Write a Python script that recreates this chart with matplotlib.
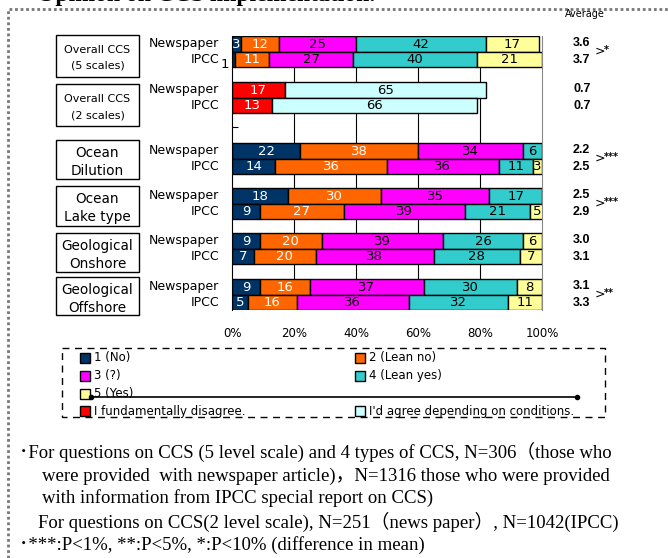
import matplotlib.pyplot as plt
from matplotlib.patches import Rectangle

# questions and the two respondent groups
topics = ["Overall CCS\n(5 scales)", "Overall CCS\n(2 scales)", "Ocean\nDilution",
          "Ocean\nLake type", "Geological\nOnshore", "Geological\nOffshore"]
groups = ["Newspaper", "IPCC"]

# percentages per answer, 5 level scale: 1 (No) ... 5 (Yes)
news_5 = [[3, 12, 25, 42, 17], None, [22, 38, 34, 6, 0],
          [18, 30, 35, 17, 0], [9, 20, 39, 26, 6], [9, 16, 37, 30, 8]]
ipcc_5 = [[1, 11, 27, 40, 21], None, [14, 36, 36, 11, 3],
          [9, 27, 39, 21, 5], [7, 20, 38, 28, 7], [5, 16, 36, 32, 11]]
# 2 level scale only for the second question
news_2 = [17, 65]
ipcc_2 = [13, 66]

avg_news = ["3.6", "0.7", "2.2", "2.5", "3.0", "3.1"]
avg_ipcc = ["3.7", "0.7", "2.5", "2.9", "3.1", "3.3"]
signif = ["*", "", "***", "***", "", "**"]

names_5 = ["1 (No)", "2 (Lean no)", "3 (?)", "4 (Lean yes)", "5 (Yes)"]
names_2 = ["I fundamentally disagree.", "I'd agree depending on conditions."]
colors_5 = ["#003366", "#FF6600", "#FF00FF", "#33CCCC", "#FFFF99"]
colors_2 = ["#FF0000", "#CCFFFF"]
text_5 = ["white", "white", "black", "black", "black"]
text_2 = ["white", "black"]

xticks = [0, 20, 40, 60, 80, 100]

notes = [
    (19, 452, "･For questions on CCS (5 level scale) and 4 types of CCS, N=306（those who"),
    (42, 476, "were provided  with newspaper article)，N=1316 those who were provided"),
    (42, 498, "with information from IPCC special report on CCS)"),
    (38, 522, "For questions on CCS(2 level scale), N=251（news paper）, N=1042(IPCC)"),
    (19, 545, "･***:P<1%, **:P<5%, *:P<10% (difference in mean)"),
]

# layout in figure pixels
W, H = 668, 558
group_top = [36, 82, 143, 188, 233, 279]
box_y = [(35, 77), (84, 126), (140, 179), (186, 226), (233, 272), (277, 315)]
bh = 15.5

fig = plt.figure(figsize=(W / 100, H / 100), dpi=100)

# overlay in pixel coordinates for boxes, legend and notes
bg = fig.add_axes([0, 0, 1, 1])
bg.set_xlim(0, W)
bg.set_ylim(H, 0)
bg.axis("off")

ax = fig.add_axes([232 / W, 1 - 310 / H, (542 - 232) / W, (310 - 36) / H])
ax.set_xlim(0, 100)
ax.set_ylim(310, 36)

for x in xticks[1:-1]:
    ax.axvline(x, color="black", lw=0.8, zorder=0)

for g in range(len(topics)):
    for k, name in enumerate(groups):
        yc = group_top[g] + bh * (k + 0.5)
        if news_5[g] is not None:
            vals = news_5[g] if k == 0 else ipcc_5[g]
            cols, tcols = colors_5, text_5
        else:
            vals = news_2 if k == 0 else ipcc_2
            cols, tcols = colors_2, text_2
        left = 0
        for v, c, tc in zip(vals, cols, tcols):
            if v > 0:
                ax.barh(yc, v, left=left, height=bh, color=c, edgecolor="black",
                        lw=1, zorder=2)
                if v >= 2:
                    ax.text(left + v / 2, yc + 0.5, str(v), ha="center", va="center",
                            color=tc, fontsize=9.5, zorder=3)
                else:
                    ax.text(-0.8, yc + 5, str(v), ha="right", va="center",
                            fontsize=9.5, clip_on=False)
            left += v
        bg.text(219, yc, name, ha="right", va="center", fontsize=9)

    # averages and significance
    bg.text(573, group_top[g] + bh * 0.5 - 1, avg_news[g], ha="left", va="center",
            fontsize=9, fontweight="bold", family="Liberation Sans")
    bg.text(573, group_top[g] + bh * 1.5 + 1, avg_ipcc[g], ha="left", va="center",
            fontsize=9, fontweight="bold", family="Liberation Sans")
    if signif[g]:
        bg.text(595, group_top[g] + bh, ">", ha="left", va="center", fontsize=9)
        bg.text(604, group_top[g] + bh - 1.5, signif[g], ha="left", va="center",
                fontsize=7, fontweight="bold")

    # category box on the left
    y0, y1 = box_y[g]
    rect = Rectangle((56, y0), 83, y1 - y0, facecolor="white", edgecolor="black", lw=1)
    bg.add_patch(rect)
    fs = 8 if g < 2 else 9.8
    l1, l2 = topics[g].split("\n")
    off1, off2 = (15, 31) if g < 2 else (13, 31)
    for off, line in ((off1, l1), (off2, l2)):
        t = bg.text(97.5, y0 + off, line, ha="center", va="center", fontsize=fs)
        t.set_clip_path(rect)

ax.set_xticks(xticks)
ax.set_xticklabels([f"{x}%" for x in xticks], fontsize=8.5)
ax.tick_params(axis="x", length=0, pad=12)
ax.set_yticks([127])
ax.tick_params(axis="y", direction="in", length=4, labelleft=False)
ax.spines["top"].set_visible(False)
ax.spines["bottom"].set_visible(False)
ax.spines["right"].set_color("#888888")
ax.patch.set_alpha(0)

bg.text(585, 14, "Average", ha="center", va="center", fontsize=7)

# legend drawn by hand
bg.add_patch(Rectangle((62, 348), 543, 69, fill=False, edgecolor="black", lw=1,
                       ls=(0, (5, 4))))
rows = [358, 376, 394]
for i, (n, c) in enumerate(zip(names_5, colors_5)):
    lx = 80 if i % 2 == 0 else 355
    ly = rows[i // 2]
    bg.add_patch(Rectangle((lx, ly - 5), 10, 10, facecolor=c, edgecolor="black", lw=1))
    bg.text(lx + 14, ly, n, ha="left", va="center", fontsize=8.5)
bg.plot([91, 577], [397, 397], color="black", lw=1.2, marker="o", markersize=3)
for i, (n, c) in enumerate(zip(names_2, colors_2)):
    lx = 80 if i == 0 else 355
    bg.add_patch(Rectangle((lx, 406), 10, 10, facecolor=c, edgecolor="black", lw=1))
    bg.text(lx + 14, 411, n, ha="left", va="center", fontsize=8.5)

# notes below
for x, y, s in notes:
    bg.text(x, y, s, ha="left", va="center", fontsize=13.5,
            family=["Liberation Serif", "Noto Sans CJK JP"])

# dotted page frame and clipped title
bg.plot([8, 8, W], [H, 9, 9], color="#777777", lw=2, ls=(0, (1, 1)))
bg.text(375, 1, "Opinion on CCS implementation.", ha="right", va="baseline",
        fontsize=17, family="Liberation Serif", fontweight="bold", clip_on=False)

fig.savefig("out.png", dpi=100)
